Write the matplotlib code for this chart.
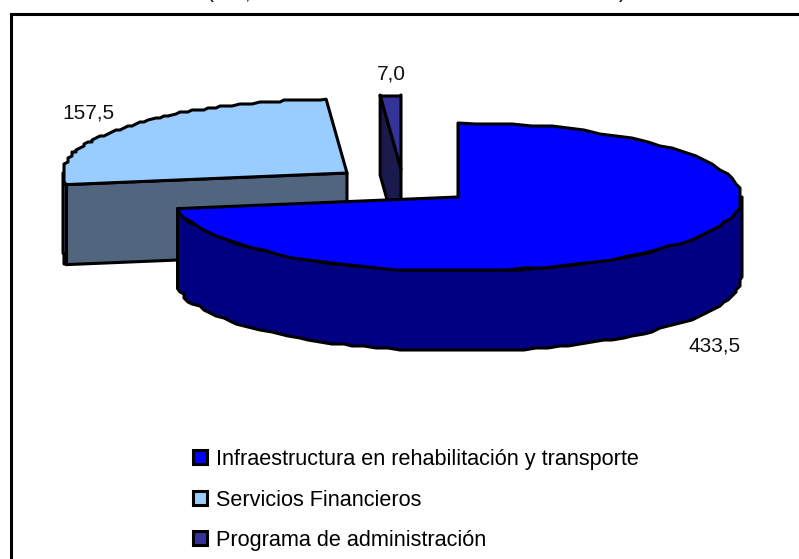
# plot.py
# Exploded 3D-look pie, drawn as polygons since matplotlib has no 3D pie.

import matplotlib
matplotlib.use("Agg")
import matplotlib.pyplot as plt
import numpy as np
from matplotlib.patches import Patch, Polygon

plt.rcParams["font.family"] = ["Liberation Sans", "DejaVu Sans"]

categories = [
    "Infraestructura en rehabilitación y transporte",
    "Servicios Financieros",
    "Programa de administración",
]
values = [433.5, 157.5, 7.0]
value_labels = ["433,5", "157,5", "7,0"]
title_fragments = ["(", ",", ")"]

top_colors = ["#0000FF", "#99CCFF", "#333399"]
side_colors = ["#000080", "#51657F", "#1A1A4D"]

RX = 284
RY = 74
DEPTH = 80
LW = 2.2
# wedge apex in pixels, the two smaller slices are pulled out
apexes = [(458, 197), (347, 173), (401, 169)]


def arc_points(apex, t0, t1, n=70):
    t = np.radians(np.linspace(t0, t1, n))
    x = apex[0] + RX * np.sin(t)
    y = apex[1] - RY * np.cos(t)
    # the source picture has a stepped outline
    inner = np.arange(1, n - 1)
    x[inner] = np.round(x[inner] / 4) * 4
    y[inner] = np.round(y[inner] / 2) * 2
    return np.column_stack([x, y])


def add_poly(ax, pts, color):
    ax.add_patch(Polygon(pts, closed=True, facecolor=color, edgecolor="black",
                         linewidth=LW, joinstyle="round"))


def draw_slice(ax, i, t0, t1):
    apex = np.array(apexes[i], dtype=float)
    drop = np.array([0, DEPTH])
    arc = arc_points(apex, t0, t1)

    # outer wall, only the part facing the viewer
    w0, w1 = max(t0, 90), min(t1, 270)
    if w1 > w0:
        wall = arc_points(apex, w0, w1)
        add_poly(ax, np.vstack([wall, wall[::-1] + drop]), side_colors[i])

    # cut face on the clockwise-start side for slices behind the centre
    if t0 > 180:
        edge = arc[0]
        add_poly(ax, [apex, edge, edge + drop, apex + drop], side_colors[i])

    add_poly(ax, np.vstack([apex, arc]), top_colors[i])


fig = plt.figure(figsize=(7.99, 5.59), dpi=100)
ax = fig.add_axes([0, 0, 1, 1])
ax.set_xlim(0, 799)
ax.set_ylim(559, 0)
ax.axis("off")

# clipped frame: only left and top edges are in the picture
ax.plot([10.5, 10.5, 799], [559, 14, 14], color="black", linewidth=2.2,
        solid_joinstyle="miter")

angles = np.cumsum([0] + values) / sum(values) * 360
for i in [1, 2, 0]:
    draw_slice(ax, i, angles[i], angles[i + 1])

label_pos = [(715, 346), (88, 113), (391, 74)]
for text, (x, y) in zip(value_labels, label_pos):
    ax.text(x, y, text, fontsize=15, ha="center", va="center", color="#111111")

# title is cut off by the top of the picture, only these bits show
for text, x in zip(title_fragments, [210, 247, 622]):
    ax.text(x, -1.5, text, fontsize=15, ha="center", va="baseline", clip_on=False)

handles = [Patch(facecolor=c, edgecolor="black", linewidth=LW) for c in top_colors]
ax.legend(handles, categories, loc="upper left",
          bbox_to_anchor=(193 / 799, 1 - 449 / 559), frameon=False,
          fontsize=15.6, handlelength=0.65, handleheight=0.6, handletextpad=0.4,
          labelspacing=0.9, borderpad=0, borderaxespad=0)

fig.savefig("out.png", dpi=100)
